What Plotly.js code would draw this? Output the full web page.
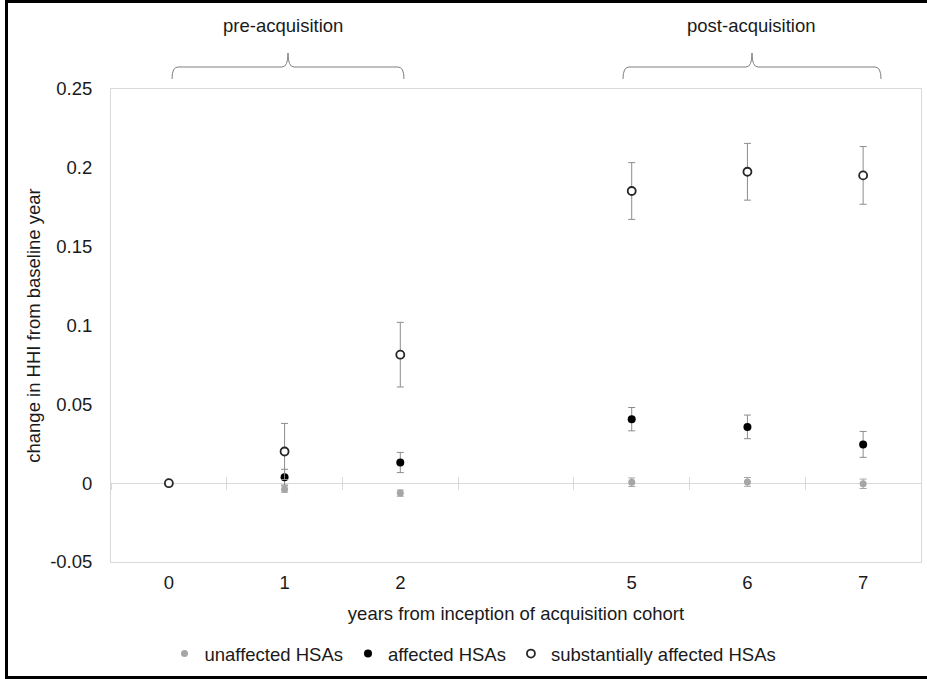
<!DOCTYPE html>
<html>
<head>
<meta charset="utf-8">
<script src="https://cdn.plot.ly/plotly-3.0.1.min.js"></script>
<style>
  html, body { margin: 0; padding: 0; background: #fff; }
  #chart { width: 927px; height: 679px; }
</style>
</head>
<body>
<div id="chart"></div>
<script>
// ---- data ----
const axisCategories = ['0', '1', '2', ' ', '5', '6', '7'];
const years = ['0', '1', '2', '5', '6', '7'];

const unaffected      = [null, -0.0038, -0.0063, 0.0006, 0.0008, -0.0004];
const unaffectedErr   = [null, 0.0020, 0.0020, 0.0027, 0.0028, 0.0030];
const affected        = [null, 0.0038, 0.0131, 0.0406, 0.0357, 0.0246];
const affectedErr     = [null, 0.0050, 0.0064, 0.0074, 0.0075, 0.0082];
const substantial     = [0, 0.0201, 0.0815, 0.1853, 0.1975, 0.1952];
const substantialErr  = [null, 0.0178, 0.0205, 0.0180, 0.0180, 0.0183];

const seriesNames = ['unaffected HSAs', 'affected HSAs', 'substantially affected HSAs'];
const yTickVals = [-0.05, 0, 0.05, 0.1, 0.15, 0.2, 0.25];
const yTickText = ['-0.05', '0', '0.05', '0.1', '0.15', '0.2', '0.25'];
const yRange = [-0.05, 0.25];
const xTitle = 'years from inception of acquisition cohort';
const yTitle = 'change in HHI from baseline year';
const periodLabels = ['pre-acquisition', 'post-acquisition'];

// ---- layout geometry ----
const W = 927, H = 679;
const M = { l: 111, r: 6, t: 89, b: 117 };
const PW = W - M.l - M.r, PH = H - M.t - M.b;
const px = x => (x - M.l) / PW;
const py = y => (H - M.b - y) / PH;
const zeroFrac = (0 - yRange[0]) / (yRange[1] - yRange[0]);

const FONT = '"Liberation Sans", Arial, sans-serif';
const TXT = '#1a1a1a';
const FS = 18.5;

const traces = [
  {
    type: 'scatter', mode: 'markers', name: seriesNames[0],
    x: years, y: unaffected,
    marker: { color: '#a6a6a6', size: 7 },
    error_y: { type: 'data', array: unaffectedErr, visible: true, color: '#a6a6a6', thickness: 1, width: 3.5 }
  },
  {
    type: 'scatter', mode: 'markers', name: seriesNames[1],
    x: years, y: affected,
    marker: { color: '#000000', size: 8 },
    error_y: { type: 'data', array: affectedErr, visible: true, color: '#8c8c8c', thickness: 1, width: 3.5 }
  },
  {
    type: 'scatter', mode: 'markers', name: seriesNames[2],
    x: years, y: substantial,
    marker: { color: '#ffffff', size: 8, line: { color: '#262626', width: 1.8 } },
    error_y: { type: 'data', array: substantialErr, visible: true, color: '#8c8c8c', thickness: 1, width: 3.5 }
  },
  // carriers for the crossing tick marks on the zero line
  { type: 'scatter', mode: 'none', x: years, y: years.map(() => 0), xaxis: 'x2', showlegend: false, hoverinfo: 'skip' },
  { type: 'scatter', mode: 'none', x: years, y: years.map(() => 0), xaxis: 'x3', showlegend: false, hoverinfo: 'skip' }
];

function brace(x0, x1, xm, yTop, yEnd, yTip) {
  const r = 6;
  const P = (x, y) => px(x).toFixed(5) + ',' + py(y).toFixed(5);
  return 'M' + P(x0, yEnd) + ' Q' + P(x0, yTop) + ' ' + P(x0 + r, yTop) +
         ' L' + P(xm - r, yTop) + ' Q' + P(xm, yTop) + ' ' + P(xm, yTip) +
         ' Q' + P(xm, yTop) + ' ' + P(xm + r, yTop) +
         ' L' + P(x1 - r, yTop) + ' Q' + P(x1, yTop) + ' ' + P(x1, yEnd);
}

const overlayAxis = (side) => ({
  type: 'category', categoryorder: 'array', categoryarray: axisCategories,
  range: [-0.5, axisCategories.length - 0.5],
  overlaying: 'x', anchor: 'free', position: zeroFrac,
  tickson: 'boundaries', ticks: side, ticklen: 6, tickcolor: '#d9d9d9', tickwidth: 1,
  showticklabels: false, showgrid: false, zeroline: false, showline: false, fixedrange: true
});

const layout = {
  width: W, height: H,
  margin: M,
  paper_bgcolor: '#ffffff', plot_bgcolor: '#ffffff',
  font: { family: FONT, size: FS, color: TXT },
  showlegend: true,
  legend: {
    orientation: 'h', x: px(473), xanchor: 'center', y: py(654), yanchor: 'middle',
    font: { family: FONT, size: FS, color: TXT },
    itemwidth: 30, tracegroupgap: 0, bgcolor: 'rgba(0,0,0,0)'
  },
  xaxis: {
    type: 'category', categoryorder: 'array', categoryarray: axisCategories,
    range: [-0.5, axisCategories.length - 0.5],
    showgrid: false, zeroline: false,
    showline: true, mirror: true, linecolor: '#d9d9d9', linewidth: 1,
    ticks: '', ticklabelstandoff: 4,
    tickfont: { family: FONT, size: FS, color: TXT },
    title: { text: xTitle, font: { family: FONT, size: FS, color: TXT }, standoff: 14 },
    automargin: false, fixedrange: true
  },
  xaxis2: overlayAxis('outside'),
  xaxis3: overlayAxis('inside'),
  yaxis: {
    range: yRange, tickvals: yTickVals, ticktext: yTickText,
    showgrid: false,
    zeroline: true, zerolinecolor: '#d9d9d9', zerolinewidth: 1,
    showline: true, mirror: true, linecolor: '#d9d9d9', linewidth: 1,
    ticks: '', ticklabelstandoff: 14,
    tickfont: { family: FONT, size: FS, color: TXT },
    title: { text: yTitle, font: { family: FONT, size: FS, color: TXT }, standoff: 4 },
    automargin: false, fixedrange: true
  },
  shapes: [
    { type: 'path', xref: 'paper', yref: 'paper', path: brace(172, 404, 288, 67, 79, 53),
      line: { color: '#7f7f7f', width: 1 } },
    { type: 'path', xref: 'paper', yref: 'paper', path: brace(623, 881, 752, 67, 79, 53),
      line: { color: '#7f7f7f', width: 1 } },
    { type: 'rect', xref: 'paper', yref: 'paper',
      x0: px(6.5), x1: px(W + 5), y0: py(677.5), y1: py(1.5),
      line: { color: '#000000', width: 3 }, fillcolor: 'rgba(0,0,0,0)' }
  ],
  annotations: [
    { xref: 'paper', yref: 'paper', x: px(283), y: py(25), text: periodLabels[0], showarrow: false,
      xanchor: 'center', yanchor: 'middle', font: { family: FONT, size: FS, color: TXT } },
    { xref: 'paper', yref: 'paper', x: px(751), y: py(25), text: periodLabels[1], showarrow: false,
      xanchor: 'center', yanchor: 'middle', font: { family: FONT, size: FS, color: TXT } }
  ]
};

Plotly.newPlot('chart', traces, layout, { displayModeBar: false, staticPlot: true });
</script>
</body>
</html>
